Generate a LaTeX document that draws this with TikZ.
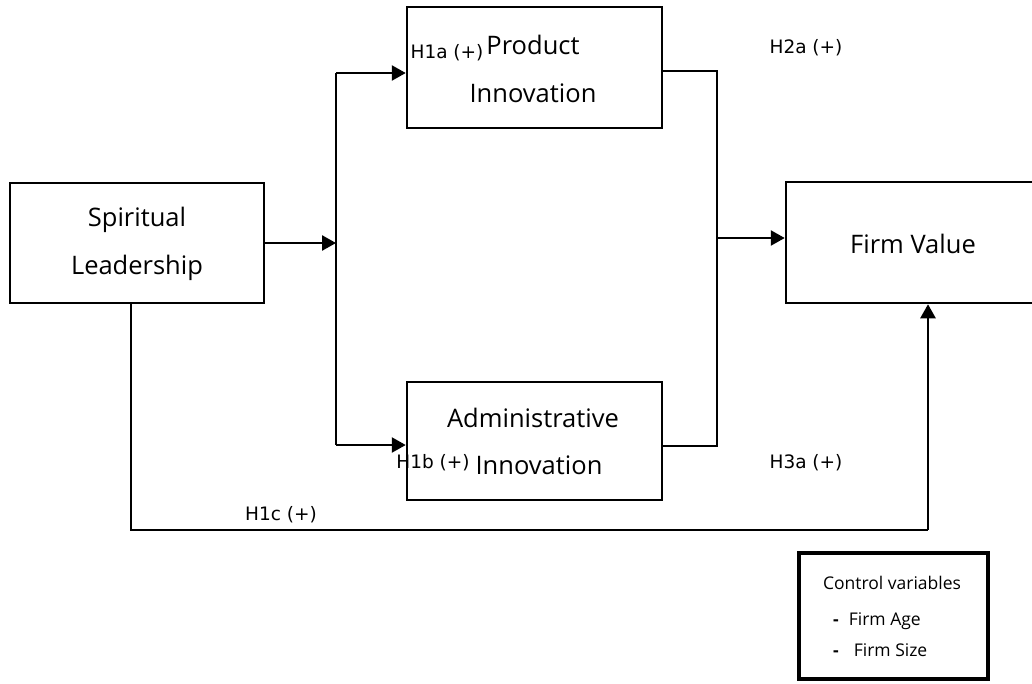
\documentclass[tikz,border=0pt]{standalone}
\usepackage{fontspec}
\setmainfont{Open Sans}
\newfontfamily\hypfont{DejaVu Sans}
\usepackage{tikz}
\usetikzlibrary{arrows.meta}

\tikzset{
  box/.style={draw,line width=2.5pt,inner sep=0pt},
  conn/.style={line width=2.5pt},
  arr/.style={conn,-{Triangle[length=14pt,width=15pt]}},
  hyp/.style={font=\hypfont\fontsize{18.5}{20}\selectfont,inner sep=0pt},
  txt/.style={font=\fontsize{25.5}{28}\selectfont,inner sep=0pt},
  ctl/.style={font=\fontsize{17.5}{20}\selectfont,inner sep=0pt},
}

\begin{document}
\begin{tikzpicture}[x=1pt,y=-1pt]
    \useasboundingbox (0,0) rectangle (1032,683);
    % boxes
    \node[box,minimum width=254pt,minimum height=120pt] (lead) at (137,243) {};
    \node[box,minimum width=255pt,minimum height=121pt] (prod) at (534.5,67.5) {};
    \node[box,minimum width=255pt,minimum height=118pt] (admin) at (534.5,441) {};
    \node[box,minimum width=260pt,minimum height=121pt] (value) at (916,242.5) {};
    \node[draw,line width=4pt,minimum width=189pt,minimum height=126pt] (ctrl) at (893.5,616) {};
    %
    \node[txt] (leadA) at (137,220) {Spiritual};
    \node[txt] (leadB) at (137,268) {Leadership};
    \node[txt] (prodA) at (533,45) {Product};
    \node[txt] (prodB) at (533,93) {Innovation};
    \node[txt] (adminA) at (533,418) {Administrative};
    \node[txt] (adminB) at (539,465) {Innovation};
    \node[txt] (valueA) at (913,244) {Firm Value};
    \node[ctl] (ctrlA) at (892,583) {Control variables};
    \node[ctl,anchor=west] (ctrlB) at (833,621) {\textbf{-}\hspace{10pt}Firm Age};
    \node[ctl,anchor=west] (ctrlC) at (833,650) {\textbf{-}\hspace{15pt}Firm Size};
    %
    \node[hyp] (h1a) at (447,53) {H1a (+)};
    \node[hyp] (h1b) at (433,463) {H1b (+)};
    \node[hyp] (h1c) at (281,515) {H1c (+)};
    \node[hyp] (h2a) at (806,48) {H2a (+)};
    \node[hyp] (h3a) at (806,463) {H3a (+)};
    % junctions
    \coordinate (split) at (336,243);
    \coordinate (splitT) at (336,73);
    \coordinate (splitB) at (336,445);
    \coordinate (joinT) at (717,71);
    \coordinate (joinB) at (717,446);
    \coordinate (join) at (717,238);
    \coordinate (down) at (131,530);
    \coordinate (right) at (928,530);
    %
    \draw[arr] (lead.east |- split) -- (split);
    \draw[conn] (splitT) -- (splitB);
    \draw[arr] (splitT) -- (prod.west |- splitT);
    \draw[arr] (splitB) -- (admin.west |- splitB);
    \draw[conn] (prod.east |- joinT) -- (joinT) -- (joinB) -- (admin.east |- joinB);
    \draw[arr] (join) -- (value.west |- join);
    \draw[conn] (lead.south -| down) -- (down) -- (right);
    \draw[arr] (right) -- (value.south -| right);
\end{tikzpicture}
\end{document}
